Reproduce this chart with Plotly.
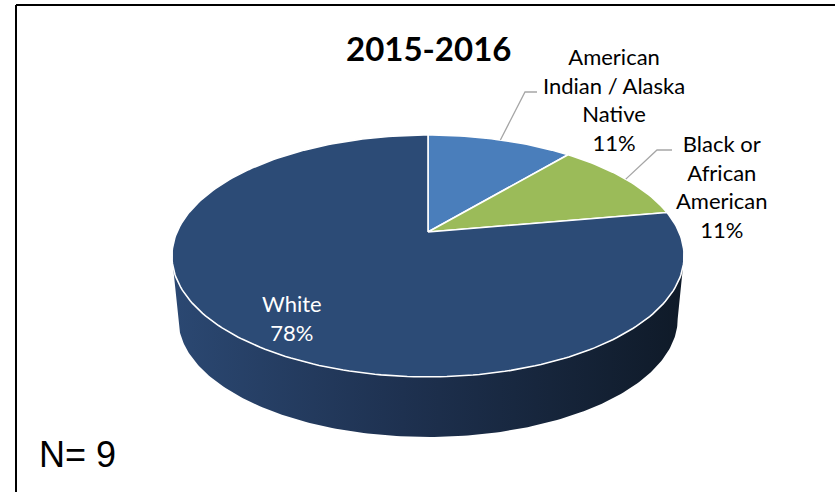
import numpy as np
import plotly.graph_objects as go

# ---- data -------------------------------------------------------------
categories = ["American Indian / Alaska Native", "Black or African American", "White"]
label_lines = ["American<br>Indian / Alaska<br>Native", "Black or<br>African<br>American", "White"]
counts = [1, 1, 7]
slice_colors = ["#4a7ebb", "#9bbb59", "#2c4b76"]
chart_title = "2015-2016"
sample_note = "N= 9"

# ---- 3-D pie geometry (pixel space, y grows downward) -----------------
CX, CY = 428.0, 232.0          # apex of the top face
A, B, P = 251.0, 116.2, 0.198  # half-width, half-height, perspective
BASE_SCALE, BASE_CY = 0.975, 295.7


def rim(theta, cx=CX, cy=CY, a=A, b=B):
    """Point on a perspective-tilted circle; theta clockwise from 12 o'clock."""
    d = 1.0 + P * np.cos(theta)
    return cx + a * np.sin(theta) / d, cy - b * np.cos(theta) / d


total = sum(counts)
fractions = [c / total for c in counts]
percents = [f"{round(100 * f)}%" for f in fractions]
bounds = np.concatenate([[0.0], np.cumsum(fractions)]) * 2 * np.pi

fig = go.Figure()

# side wall of the disc (front half, between the silhouette tangents)
t_sil = np.arccos(-P)
front = np.linspace(t_sil, 2 * np.pi - t_sil, 200)
tx, ty = rim(front)
bx, by = rim(front[::-1], CX, BASE_CY, A * BASE_SCALE, B * BASE_SCALE)
fig.add_trace(go.Scatter(
    x=np.concatenate([tx, bx]), y=np.concatenate([ty, by]),
    mode="lines", fill="toself", line=dict(width=0),
    fillgradient=dict(type="horizontal",
                      colorscale=[[0, "#2b4872"], [0.45, "#1e3150"], [1, "#0f1a28"]]),
    hoverinfo="skip", showlegend=False))

# top face slices
for i, name in enumerate(categories):
    th = np.linspace(bounds[i], bounds[i + 1], max(4, int(300 * fractions[i])))
    sx, sy = rim(th)
    fig.add_trace(go.Scatter(
        x=np.concatenate([[CX], sx, [CX]]), y=np.concatenate([[CY], sy, [CY]]),
        mode="lines", fill="toself", fillcolor=slice_colors[i],
        line=dict(color="white", width=1.6), name=name,
        hoverinfo="skip", showlegend=False))

# data labels
label_font = dict(family="Lato", size=22, color="black")
label_pos = [(614, 99), (722, 186), (292, 318)]
elbows = [((525, 92), (537, 92)), ((657, 150), (672, 150)), None]
for i in range(len(categories)):
    txt = f"{label_lines[i]}<br>{percents[i]}"
    col = "white" if elbows[i] is None else "black"
    fig.add_annotation(x=label_pos[i][0], y=label_pos[i][1], text=txt,
                       showarrow=False, xanchor="center", yanchor="middle",
                       align="center", font=dict(label_font, color=col))
    if elbows[i] is not None:
        mid = 0.5 * (bounds[i] + bounds[i + 1])
        mx, my = rim(mid)
        (ex, ey), (fx, fy) = elbows[i]
        fig.add_trace(go.Scatter(x=[mx, ex, fx], y=[my, ey, fy], mode="lines",
                                 line=dict(color="#a6a6a6", width=1.3),
                                 hoverinfo="skip", showlegend=False))

fig.add_annotation(x=428, y=48, text=f"<b>{chart_title}</b>", showarrow=False,
                   xanchor="center", yanchor="middle",
                   font=dict(family="Lato", size=33, color="black"))
fig.add_annotation(x=37, y=454, text=sample_note, showarrow=False,
                   xanchor="left", yanchor="middle",
                   font=dict(family="Liberation Sans, Arial", size=36, color="black"))

# frame
fig.add_shape(type="line", x0=16, y0=5, x1=835, y1=5, line=dict(color="black", width=2))
fig.add_shape(type="line", x0=16, y0=5, x1=16, y1=492, line=dict(color="black", width=2))

fig.update_layout(
    width=835, height=492, margin=dict(l=0, r=0, t=0, b=0),
    paper_bgcolor="white", plot_bgcolor="white",
    xaxis=dict(range=[0, 835], visible=False, fixedrange=True),
    yaxis=dict(range=[492, 0], visible=False, fixedrange=True),
)

fig.write_html("out.html")
